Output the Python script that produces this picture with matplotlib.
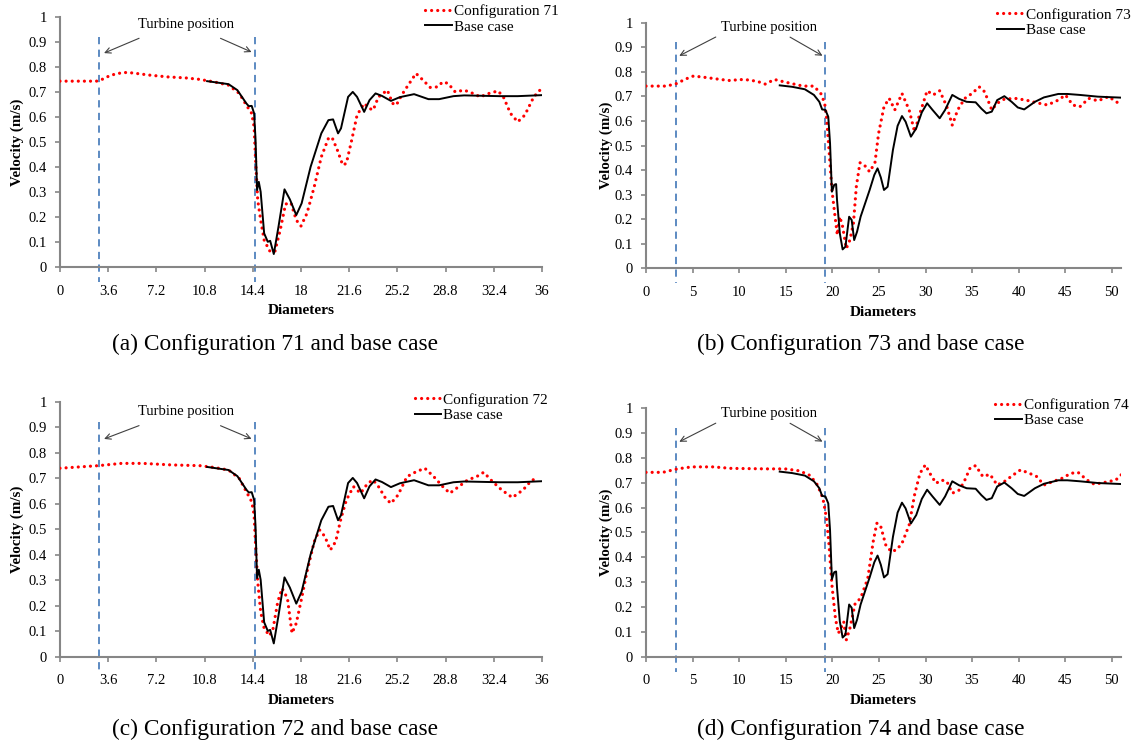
import numpy as np
import matplotlib
matplotlib.use('Agg')
from matplotlib import pyplot as plt

plt.rcParams['font.family'] = ['Liberation Serif', 'DejaVu Serif']

# ---- data ----
# panels (a) and (c): x in diameters, 0..36
base_a_x = [10.99, 12.59, 13.25, 13.92, 14.1, 14.32, 14.5, 14.61, 14.72, 14.85, 14.99, 15.25, 15.52,
            15.7, 15.97, 16.32, 16.77, 17.17, 17.65, 18.05, 18.72, 19.52, 20.05, 20.4, 20.77, 20.99,
            21.52, 21.87, 22.19, 22.72, 23.12, 23.57, 24.05, 24.72, 25.39, 26.45, 27.52, 28.32, 29.39,
            30.19, 32.85, 34.19, 35.97]
base_a_y = [0.744, 0.732, 0.708, 0.655, 0.644, 0.645, 0.615, 0.508, 0.308, 0.341, 0.301, 0.135, 0.101,
            0.105, 0.052, 0.161, 0.311, 0.271, 0.208, 0.255, 0.401, 0.535, 0.588, 0.591, 0.535, 0.555,
            0.681, 0.701, 0.681, 0.621, 0.668, 0.695, 0.685, 0.665, 0.68, 0.692, 0.672, 0.672, 0.684,
            0.687, 0.684, 0.684, 0.688]

conf71_x = [0, 2.72, 3.1, 3.8, 4.72, 5.39, 6.72, 8.05, 9.39, 10.45, 11.52, 12.59, 13.39, 13.92, 14.32,
            14.5, 14.61, 14.77, 14.99, 15.25, 15.65, 16.05, 16.45, 16.85, 17.25, 17.65, 18.0, 18.45,
            18.99, 19.52, 20.05, 20.32, 20.72, 21.12, 21.39, 21.79, 22.19, 22.72, 23.12, 23.39, 23.79,
            24.45, 24.85, 25.12, 25.52, 25.92, 26.59, 27.12, 27.65, 28.19, 28.59, 28.99, 29.52, 30.19,
            30.85, 31.39, 32.05, 32.72, 33.12, 33.65, 34.19, 34.72, 35.39, 35.97]
conf71_y = [0.744, 0.744, 0.75, 0.768, 0.779, 0.777, 0.768, 0.761, 0.757, 0.751, 0.741, 0.728, 0.695,
            0.648, 0.615, 0.561, 0.428, 0.268, 0.188, 0.108, 0.065, 0.061, 0.148, 0.252, 0.257, 0.188,
            0.164, 0.215, 0.321, 0.441, 0.515, 0.519, 0.468, 0.408, 0.415, 0.508, 0.608, 0.655, 0.635,
            0.628, 0.681, 0.708, 0.655, 0.648, 0.688, 0.721, 0.775, 0.748, 0.719, 0.721, 0.741, 0.735,
            0.701, 0.708, 0.695, 0.681, 0.695, 0.705, 0.681, 0.615, 0.581, 0.608, 0.681, 0.715]

conf72_x = [0, 2.85, 4.59, 6.19, 8.32, 10.45, 11.52, 12.59, 13.39, 13.92, 14.32, 14.5, 14.61, 14.77,
            14.99, 15.25, 15.65, 15.92, 16.27, 16.59, 16.99, 17.33, 17.65, 18.05, 18.45, 18.99, 19.39,
            19.79, 20.19, 20.59, 20.99, 21.39, 21.92, 22.45, 22.99, 23.39, 23.79, 24.32, 24.72, 25.25,
            25.92, 26.59, 27.25, 27.92, 28.59, 29.12, 29.79, 30.45, 31.12, 31.65, 32.32, 32.99, 33.79,
            34.59, 35.25, 35.79]
conf72_y = [0.739, 0.749, 0.758, 0.758, 0.752, 0.749, 0.742, 0.732, 0.699, 0.647, 0.608, 0.556, 0.438,
            0.294, 0.176, 0.111, 0.082, 0.111, 0.216, 0.268, 0.229, 0.092, 0.131, 0.229, 0.333, 0.451,
            0.497, 0.471, 0.418, 0.451, 0.542, 0.614, 0.667, 0.641, 0.68, 0.693, 0.667, 0.621, 0.601,
            0.634, 0.706, 0.725, 0.739, 0.706, 0.667, 0.641, 0.667, 0.693, 0.706, 0.723, 0.686, 0.654,
            0.624, 0.654, 0.693, 0.697]

# panels (b) and (d): x in diameters, 0..51
base_b_x = [14.35, 15.7, 17.05, 18.02, 18.6, 18.9, 19.25, 19.56, 19.75, 19.95, 20.2, 20.4, 20.5, 20.8,
            21.1, 21.4, 21.8, 22.07, 22.34, 22.65, 23.03, 24.0, 24.5, 24.85, 25.2, 25.54, 25.93, 26.5,
            27.0, 27.47, 27.86, 28.43, 29.0, 29.6, 30.17, 30.75, 31.52, 32.1, 32.87, 33.6, 34.41, 35.38,
            36.0, 36.54, 37.11, 37.69, 38.46, 39.24, 39.9, 40.59, 41.74, 42.71, 44.25, 45.22, 46.57,
            48.5, 51.0]
base_b_y = [0.745, 0.739, 0.729, 0.706, 0.678, 0.647, 0.645, 0.617, 0.509, 0.312, 0.34, 0.343, 0.278,
            0.142, 0.077, 0.088, 0.21, 0.197, 0.115, 0.149, 0.21, 0.319, 0.38, 0.407, 0.37, 0.319, 0.332,
            0.482, 0.58, 0.62, 0.597, 0.536, 0.57, 0.635, 0.672, 0.645, 0.611, 0.645, 0.706, 0.69,
            0.678, 0.676, 0.65, 0.631, 0.638, 0.685, 0.701, 0.678, 0.655, 0.647, 0.678, 0.696, 0.71,
            0.71, 0.706, 0.699, 0.695]

conf73_x = [0, 2.2, 3.36, 4.13, 5.09, 6.44, 7.99, 9.14, 9.92, 11.07, 12.04, 12.81, 13.77, 14.74, 15.9,
            16.86, 18.02, 18.79, 19.17, 19.37, 19.64, 19.95, 20.33, 20.53, 20.8, 21.1, 21.5, 21.88,
            22.26, 22.57, 22.96, 23.42, 24.0, 24.57, 24.96, 25.54, 26.1, 26.7, 27.47, 28.24, 28.82,
            29.4, 30.17, 30.83, 31.52, 32.29, 32.87, 33.45, 34.22, 34.99, 35.76, 36.34, 37.11, 37.69,
            38.46, 39.62, 40.78, 41.94, 43.09, 44.25, 45.02, 45.8, 46.57, 47.53, 48.5, 49.65, 51.0]
conf73_y = [0.742, 0.742, 0.753, 0.769, 0.783, 0.777, 0.769, 0.764, 0.769, 0.767, 0.76, 0.75, 0.769,
            0.76, 0.75, 0.742, 0.742, 0.71, 0.672, 0.617, 0.482, 0.319, 0.197, 0.136, 0.21, 0.17,
            0.081, 0.115, 0.183, 0.332, 0.43, 0.421, 0.393, 0.43, 0.549, 0.658, 0.692, 0.645, 0.712,
            0.645, 0.556, 0.631, 0.723, 0.706, 0.723, 0.658, 0.583, 0.645, 0.692, 0.712, 0.739, 0.719,
            0.645, 0.672, 0.689, 0.692, 0.685, 0.674, 0.665, 0.685, 0.706, 0.665, 0.658, 0.692, 0.682,
            0.699, 0.665]

conf74_x = [0, 1.81, 3.36, 4.9, 7.21, 9.14, 13.0, 14.93, 16.47, 17.63, 18.4, 18.98, 19.37, 19.64,
            19.95, 20.33, 20.64, 20.91, 21.22, 21.49, 21.88, 22.45, 23.03, 23.8, 24.38, 24.77, 25.15,
            25.73, 26.31, 26.89, 27.47, 28.24, 28.82, 29.4, 29.98, 30.56, 31.13, 31.71, 32.29, 32.87,
            33.64, 34.22, 34.8, 35.38, 36.15, 36.92, 37.69, 38.46, 39.43, 40.2, 41.16, 41.94, 42.71,
            43.67, 44.64, 45.6, 46.37, 47.34, 48.11, 49.27, 50.42, 51.0]
conf74_y = [0.742, 0.742, 0.756, 0.764, 0.764, 0.758, 0.756, 0.756, 0.748, 0.729, 0.691, 0.638, 0.557,
            0.45, 0.289, 0.154, 0.094, 0.114, 0.141, 0.067, 0.114, 0.215, 0.235, 0.315, 0.463, 0.537,
            0.53, 0.45, 0.423, 0.43, 0.456, 0.53, 0.651, 0.738, 0.772, 0.732, 0.698, 0.711, 0.705,
            0.658, 0.671, 0.711, 0.761, 0.769, 0.725, 0.734, 0.691, 0.705, 0.732, 0.752, 0.738, 0.725,
            0.691, 0.705, 0.718, 0.738, 0.742, 0.711, 0.694, 0.702, 0.711, 0.732]

ticks_36 = [0, 3.6, 7.2, 10.8, 14.4, 18, 21.6, 25.2, 28.8, 32.4, 36]
ticks_51 = [0, 5, 10, 15, 20, 25, 30, 35, 40, 45, 50]
turbines_36 = [2.95, 14.6]
turbines_51 = [3.25, 19.2]

panels = [
    # rect, conf x/y, base x/y, label, xmax, ticks, turbines, caption, text xy, arrows,
    # legend anchor, caption position, ylabel x
    ([0.0529, 0.643, 0.425, 0.334], conf71_x, conf71_y, base_a_x, base_a_y, 'Configuration 71',
     36, ticks_36, turbines_36, '(a) Configuration 71 and base case', (9.4, 0.97),
     [((6.1, 0.92), (3.1, 0.852)), ((11.8, 0.92), (14.5, 0.856))], (0.757, 1.052),
     (275 / 1134, 1 - 344 / 748), -0.075),
    ([0.5697, 0.6413, 0.419, 0.3283], conf73_x, conf73_y, base_b_x, base_b_y, 'Configuration 73',
     51, ticks_51, turbines_51, '(b) Configuration 73 and base case', (13.2, 0.98),
     [((7.75, 0.947), (3.3, 0.86)), ((15.2, 0.947), (19.2, 0.86))], (0.739, 1.06),
     (861 / 1134, 1 - 344 / 748), -0.07),
    ([0.0529, 0.1221, 0.425, 0.3409], conf72_x, conf72_y, base_a_x, base_a_y, 'Configuration 72',
     36, ticks_36, turbines_36, '(c) Configuration 72 and base case', (9.4, 0.96),
     [((6.1, 0.91), (3.1, 0.85)), ((11.8, 0.91), (14.5, 0.85))], (0.736, 1.034),
     (275 / 1134, 1 - 729 / 748), -0.075),
    ([0.5697, 0.1221, 0.419, 0.3321], conf74_x, conf74_y, base_b_x, base_b_y, 'Configuration 74',
     51, ticks_51, turbines_51, '(d) Configuration 74 and base case', (13.2, 0.98),
     [((7.75, 0.945), (3.3, 0.86)), ((15.2, 0.945), (19.2, 0.86))], (0.735, 1.041),
     (861 / 1134, 1 - 729 / 748), -0.07),
]

fig = plt.figure(figsize=(11.34, 7.48), dpi=100)

for (rect, cx, cy, bx, by, lab, xmax, ticks, turb, cap, txy, arrows, leg_at, cap_at,
     ylab_x) in panels:
    ax = fig.add_axes(rect)
    ax.plot(cx, cy, color='red', linestyle=(0, (0.01, 1.9)), linewidth=2.3,
            dash_capstyle='round', label=lab, zorder=3)
    ax.plot(bx, by, color='black', linewidth=1.4, label='Base case', zorder=4)
    for t in turb:
        ax.plot([t, t], [0.92, -0.06], color='#4f81bd', linestyle=(0, (4, 3)),
                linewidth=1.3, clip_on=False, zorder=2)
    ax.text(txy[0], txy[1], 'Turbine position', ha='center', va='center', fontsize=10.5)
    for start, end in arrows:
        ax.annotate('', xy=end, xytext=start,
                    arrowprops=dict(arrowstyle='->', color='#404040', lw=0.8))
    ax.set_xlim(0, xmax)
    ax.set_ylim(0, 1)
    ax.set_xticks(ticks)
    ax.set_xticklabels(['%g' % v for v in ticks])
    yt = np.round(np.arange(0, 1.01, 0.1), 1)
    ax.set_yticks(yt)
    ax.set_yticklabels(['%g' % v for v in yt])
    ax.tick_params(labelsize=10.5, color='#868686', length=3.6, width=1.2)
    ax.tick_params(axis='x', pad=9)
    ax.tick_params(axis='y', pad=6)
    for s in ['top', 'right']:
        ax.spines[s].set_visible(False)
    for s in ['left', 'bottom']:
        ax.spines[s].set_color('#868686')
        ax.spines[s].set_linewidth(1.5)
    ax.set_xlabel('Diameters', fontsize=11, fontweight='bold', labelpad=5)
    ax.set_ylabel('Velocity (m/s)', fontsize=10.8, fontweight='bold')
    ax.yaxis.set_label_coords(ylab_x, 0.5)
    ax.legend(loc='upper left', bbox_to_anchor=leg_at, frameon=False, fontsize=11,
              handlelength=1.75, handletextpad=0.13, labelspacing=0.12, borderpad=0,
              borderaxespad=0)
    fig.text(cap_at[0], cap_at[1], cap, ha='center', va='center', fontsize=16.8)

fig.savefig('out.png', dpi=100)
